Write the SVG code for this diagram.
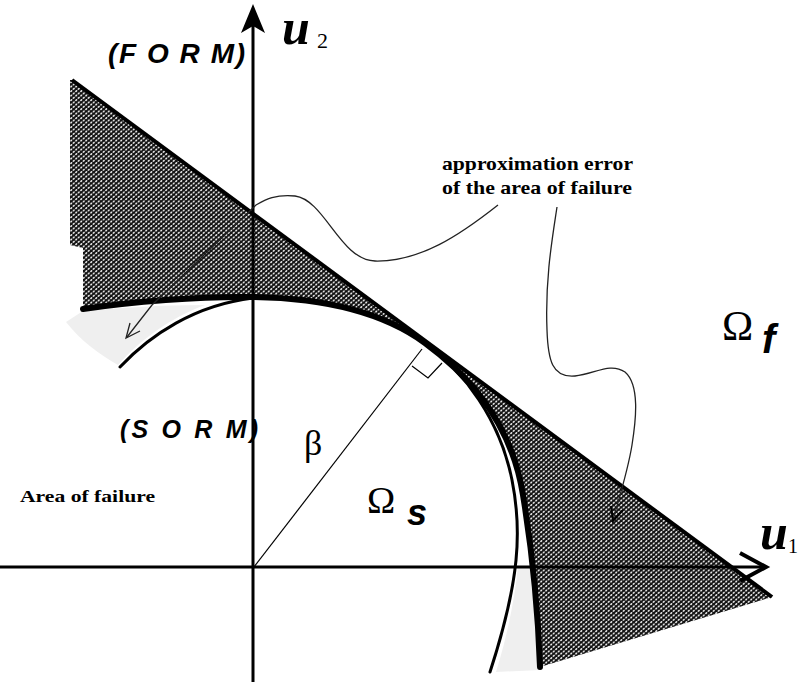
<svg xmlns="http://www.w3.org/2000/svg" width="799" height="682" viewBox="0 0 799 682">
<style>
.ax{stroke:#000;stroke-width:3;fill:none}
.thick{stroke:#000;stroke-width:6;fill:none;stroke-linecap:round}
.thin{stroke:#000;stroke-width:3;fill:none;stroke-linecap:round}
.ann{stroke:#222;stroke-width:1.3;fill:none}
.grey{fill:#efefef;stroke:none}
.lbl{font-family:"Liberation Serif",serif;font-weight:bold;fill:#000}
.sans{font-family:"Liberation Sans",Arial,sans-serif;font-weight:bold;font-style:italic;fill:#000}
.ser{font-family:"Liberation Serif",serif;fill:#000}
</style>
<defs>
<pattern id="hatch" patternUnits="userSpaceOnUse" width="5" height="4.5">
<rect width="5" height="4.5" fill="#111"/>
<ellipse cx="1.25" cy="1.1" rx="1.3" ry="0.75" fill="#fff" transform="rotate(-35 1.25 1.1)"/>
<ellipse cx="3.75" cy="3.35" rx="1.3" ry="0.75" fill="#fff" transform="rotate(-35 3.75 3.35)"/>
</pattern>
</defs>
<rect width="799" height="682" fill="#fff"/>
<g id="grey-regions">
<path class="grey" d="M83,311 L66,322 C80,340 100,355 118,365 C140,340 170,318 205,305 C160,305 120,308 83,311 Z"/>
<path class="grey" d="M518,566 C515,600 506,640 496,672 L540,670 C538,620 536,590 533,566 Z"/>
</g>
<g id="hatch-area">
<path fill="url(#hatch)" d="M72,80 L772,597 L540,667 C538,610 532,550 523,495 C512,425 470,376 425,343 C380,310 320,298 253,297 C200,296 130,302 83,309 L83,248 L70,245 L70,80 Z"/>
</g>
<g id="axes">
<line class="ax" x1="0" y1="567" x2="765" y2="567"/>
<polyline points="740,553 766,567 740,581" stroke="#000" stroke-width="4" fill="none"/>
<line class="ax" x1="253" y1="682" x2="253" y2="20"/>
<polygon points="253,4 241,33 253,26 265,33" fill="#000"/>
</g>
<g id="form-line">
<line x1="72" y1="80" x2="772" y2="597" stroke="#000" stroke-width="4"/>
</g>
<g id="limit-state">
<path class="thick" d="M83,309 C130,302 200,296 253,297 C320,298 380,310 425,343 C470,376 512,425 523,495 C532,550 538,610 540,667"/>
</g>
<g id="sorm-curve">
<path class="thin" d="M120,367 C150,335 195,305 253,298 C320,296 380,312 425,343 C465,372 500,420 512,480 C522,530 520,580 490,672"/>
</g>
<g id="beta">
<line x1="254" y1="567" x2="422" y2="349" stroke="#000" stroke-width="1.2"/>
<polyline points="412,366 428,378 442,363" stroke="#000" stroke-width="1.2" fill="none"/>
</g>
<g id="connectors">
<path class="ann" d="M498,205 C460,235 420,262 375,261 C340,260 325,200 295,196 C275,194 265,200 256,205 L152,305 L127,337"/>
<polyline class="ann" points="130,323 126,338 140,331" stroke-width="1.6"/>
<path class="ann" d="M557,207 C552,240 545,280 547,330 C548,360 552,378 575,376 C595,374 610,362 625,372 C640,385 636,420 632,445 C628,470 620,495 613,520"/>
<polyline points="611,506 613,521 623,510" stroke="#000" stroke-width="2" fill="none"/>
</g>
<g id="labels">
<text class="sans" x="108" y="63" font-size="28" textLength="137" lengthAdjust="spacing">(F O R M)</text>
<text class="sans" x="120" y="438" font-size="25" textLength="138" lengthAdjust="spacing">(S O R M)</text>
<text class="lbl" x="442" y="170" font-size="19" textLength="191" lengthAdjust="spacingAndGlyphs">approximation error</text>
<text class="lbl" x="442" y="194" font-size="19" textLength="190" lengthAdjust="spacingAndGlyphs">of the area of failure</text>
<text class="lbl" x="20" y="502" font-size="17" textLength="135" lengthAdjust="spacingAndGlyphs">Area of failure</text>
<text class="lbl" x="282" y="44" font-size="50" font-style="italic">u</text>
<text class="ser" x="317" y="48" font-size="22">2</text>
<text class="lbl" x="760" y="549" font-size="50" font-style="italic">u</text>
<text class="ser" x="788" y="553" font-size="20">1</text>
<text class="ser" x="722" y="340" font-size="42">Ω</text>
<text class="sans" x="762" y="353" font-size="40">f</text>
<text class="ser" x="367" y="513" font-size="38">Ω</text>
<text class="sans" x="407" y="525" font-size="36">s</text>
<text class="ser" x="304" y="455" font-size="36">β</text>
</g>
</svg>
